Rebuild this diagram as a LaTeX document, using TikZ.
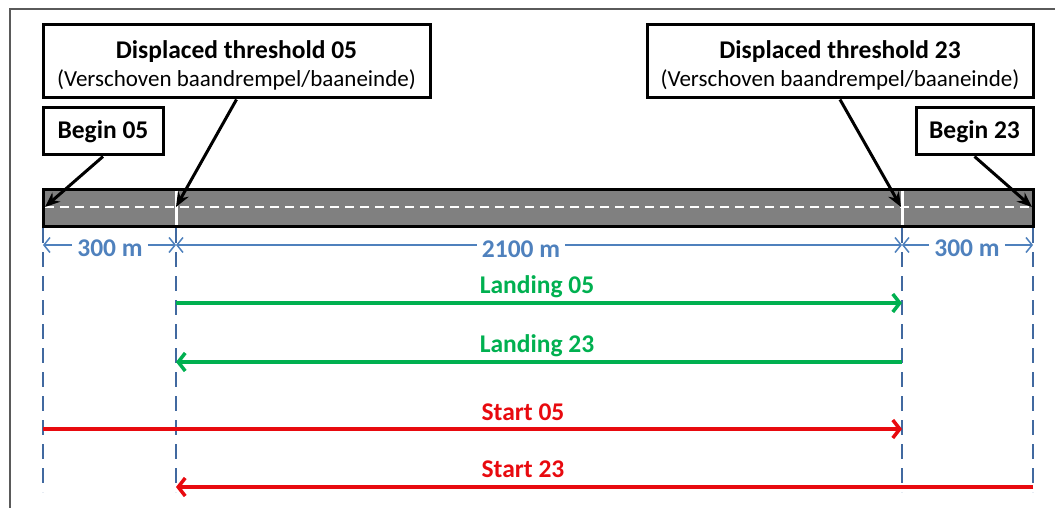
\documentclass[tikz,border=0pt]{standalone}
\usepackage{fontspec}
\setmainfont{Carlito}
\usetikzlibrary{arrows.meta}
\definecolor{dimblue}{RGB}{79,129,189}
\definecolor{vblue}{RGB}{65,105,160}
\definecolor{lgreen}{RGB}{0,176,80}
\definecolor{sred}{RGB}{232,10,15}
\definecolor{rwgray}{RGB}{128,128,128}
\definecolor{framegray}{RGB}{90,90,90}
\begin{document}
\begin{tikzpicture}[x=1pt,y=-1pt,
  box/.style={draw=black, line width=3pt, fill=white, inner sep=0pt, align=center},
  pointer/.style={-{Stealth[length=15pt,width=12pt]}, line width=3pt, black},
  dimline/.style={dimblue, line width=1.5pt, -{Straight Barb[length=6pt,width=15pt]}},
  dimlbl/.style={text=dimblue, font=\fontsize{25.5}{25.5}\selectfont\bfseries, inner sep=5pt, anchor=base},
  guide/.style={vblue, line width=2.3pt, dash pattern=on 15pt off 9pt},
  landarrow/.style={lgreen, line width=3.5pt, -{Straight Barb[length=7pt,width=18pt]}},
  startarrow/.style={sred, line width=3.5pt, -{Straight Barb[length=7pt,width=18pt]}},
  greenlbl/.style={text=lgreen, font=\fontsize{25.5}{25.5}\selectfont\bfseries, anchor=base},
  redlbl/.style={text=sred, font=\fontsize{25.5}{25.5}\selectfont\bfseries, anchor=base},
  bigfont/.style={font=\fontsize{25.5}{28}\selectfont}
]
\useasboundingbox (0,0) rectangle (1055,508);
% frame
\draw[framegray, line width=1.5pt] (10,508) -- (10,9) -- (1055,9);

% runway
\node[draw=black, line width=3pt, fill=rwgray, minimum width=990pt, minimum height=37pt, inner sep=0pt] (runway) at (538,207.5) {};
\draw[white, line width=2pt, dash pattern=on 9pt off 6pt] (45,207) -- (1031,207);
\draw[white, line width=3pt] (176,190.5) -- (176,224.5);
\draw[white, line width=3pt] (902,190.5) -- (902,224.5);

% key coordinates
\coordinate (pL) at (45,207);
\coordinate (p05) at (176,207);
\coordinate (p23) at (901,207);
\coordinate (pR) at (1032,207);

% label boxes
\node[box, bigfont, minimum width=387pt, minimum height=73pt] (d05) at (236.5,61.5)
  {\rule{0pt}{25pt}\textbf{Displaced threshold 05}\\[0pt]{\fontsize{23}{28}\selectfont (Verschoven baandrempel/baaneinde)}};
\node[box, bigfont, minimum width=386pt, minimum height=73pt] (d23) at (840,61.5)
  {\rule{0pt}{25pt}\textbf{Displaced threshold 23}\\[0pt]{\fontsize{23}{28}\selectfont (Verschoven baandrempel/baaneinde)}};
\node[box, bigfont, minimum width=120pt, minimum height=47pt] (b05) at (103,131.5) {\textbf{Begin 05}};
\node[box, bigfont, minimum width=117pt, minimum height=47pt] (b23) at (974.5,131.5) {\textbf{Begin 23}};

\draw[pointer] (b05.south) -- (pL);
\draw[pointer] (d05.south) -- (p05);
\draw[pointer] (d23.south) -- (p23);
\draw[pointer] (b23.south) -- (pR);

% guide lines
\coordinate (gA1) at (43,228);  \coordinate (gA2) at (43,492);
\coordinate (gB1) at (176,228); \coordinate (gB2) at (176,492);
\coordinate (gC1) at (902,228); \coordinate (gC2) at (902,492);
\coordinate (gD1) at (1033,228); \coordinate (gD2) at (1033,492);
\draw[guide] (gA1) -- (gA2);
\draw[guide] (gB1) -- (gB2);
\draw[guide] (gC1) -- (gC2);
\draw[guide] (gD1) -- (gD2);

% dimensions
\coordinate (dA) at (43,245);
\coordinate (dB) at (176,245);
\coordinate (dC) at (902,245);
\coordinate (dD) at (1033,245);
\node[dimlbl] (m1) at (110,256) {300 m};
\node[dimlbl] (m2) at (521,257) {2100 m};
\node[dimlbl] (m3) at (967,256) {300 m};
\draw[dimline] (m1.west |- dA) -- (dA);
\draw[dimline] (m1.east |- dA) -- (dB);
\draw[dimline] (m2.west |- dA) -- (dB);
\draw[dimline] (m2.east |- dA) -- (dC);
\draw[dimline] (m3.west |- dA) -- (dC);
\draw[dimline] (m3.east |- dA) -- (dD);

% landing distances
\node[greenlbl] (l05) at (537,293) {Landing 05};
\node[greenlbl] (l23) at (537,352) {Landing 23};
\coordinate (l05a) at (176,303); \coordinate (l05b) at (902,303);
\coordinate (l23a) at (902,362); \coordinate (l23b) at (176,362);
\draw[landarrow] (l05a) -- (l05b);
\draw[landarrow] (l23a) -- (l23b);

% take-off distances
\node[redlbl] (s05) at (523,420) {Start 05};
\node[redlbl] (s23) at (523,477) {Start 23};
\coordinate (s05a) at (43,429); \coordinate (s05b) at (902,429);
\coordinate (s23a) at (1033,487); \coordinate (s23b) at (176,487);
\draw[startarrow] (s05a) -- (s05b);
\draw[startarrow] (s23a) -- (s23b);
\end{tikzpicture}
\end{document}
